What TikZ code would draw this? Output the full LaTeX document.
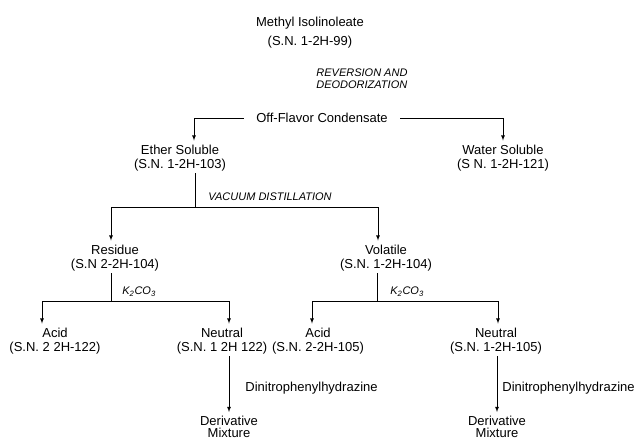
\documentclass[tikz,border=0pt]{standalone}
\usepackage{fontspec}
\setmainfont{Liberation Sans}
\newcommand{\kco}{K\textsubscript{2}CO\textsubscript{3}}
\newcommand{\dnp}{Dinitrophenylhydrazine}

\begin{document}
\begin{tikzpicture}[x=1pt,y=-1pt]
                        \tikzstyle{every node}=[font=\fontsize{13}{14}\selectfont, align=center, inner sep=2pt]
                        \tikzstyle{oplabel}=[font=\fontsize{11}{12}\selectfont\itshape, align=left, anchor=west, inner sep=0pt]
                        \tikzstyle{reagent}=[align=left, anchor=west, inner sep=0pt]
                        \tikzstyle{product}=[font=\fontsize{13}{12}\selectfont, anchor=north]
                        \tikzstyle{arr}=[->, >=latex, shorten >=2pt]
                        \tikzstyle{every path}=[line width=0.8pt]
                        \useasboundingbox (0,0) rectangle (637,440);
                        \node (meth) at (310,33) {Methyl Isolinoleate\\[5pt](S.N. 1-2H-99)};
                        \node[oplabel] (rev) at (316,79) {REVERSION AND\\DEODORIZATION};
                        \node[inner sep=12pt] (off) at (322,118) {Off-Flavor Condensate};
                        \node (ether) at (180,158) {Ether Soluble\\(S.N. 1-2H-103)};
                        \node (water) at (503,158) {Water Soluble\\(S N. 1-2H-121)};
                        \node[oplabel] (vac) at (208,197) {VACUUM DISTILLATION};
                        \node (res) at (115,258) {Residue\\(S.N 2-2H-104)};
                        \node (vol) at (386,258) {Volatile\\(S.N. 1-2H-104)};
                        \node[oplabel] (kl) at (122,292) {\kco};
                        \node[oplabel] (kr) at (390,292) {\kco};
                        \node (acidl) at (55,341) {Acid\\(S.N. 2 2H-122)};
                        \node (neutl) at (222,341) {Neutral\\(S.N. 1 2H 122)};
                        \node (acidr) at (318,341) {Acid\\(S.N. 2-2H-105)};
                        \node (neutr) at (496,341) {Neutral\\(S.N. 1-2H-105)};
                        \node[reagent] (dnpl) at (245,388) {\dnp};
                        \node[reagent] (dnpr) at (502,388) {\dnp};
                        \node[product] (derl) at (229,414) {Derivative\\Mixture};
                        \node[product] (derr) at (497,414) {Derivative\\Mixture};
                        \coordinate (vd) at (195,207);
                        \coordinate (kjl) at (111,301);
                        \coordinate (kjr) at (377,301);
                        \draw[arr] (off.west) -| ([xshift=14pt]ether.north);
                        \draw[arr] (off.east) -| (water.north);
                        \draw (ether.south -| vd) -- (vd);
                        \draw[arr] (vd) -| ([xshift=-4pt]res.north);
                        \draw[arr] (vd) -| ([xshift=-8pt]vol.north);
                        \draw (res.south -| kjl) -- (kjl);
                        \draw[arr] (kjl) -| ([xshift=-13pt]acidl.north);
                        \draw[arr] (kjl) -| ([xshift=7pt]neutl.north);
                        \draw (vol.south -| kjr) -- (kjr);
                        \draw[arr] (kjr) -| ([xshift=-6pt]acidr.north);
                        \draw[arr] (kjr) -| ([xshift=2pt]neutr.north);
                        \draw[arr] (neutl.south -| derl.north) -- (derl.north);
                        \draw[arr] (neutr.south -| derr.north) -- (derr.north);
\end{tikzpicture}
\end{document}
